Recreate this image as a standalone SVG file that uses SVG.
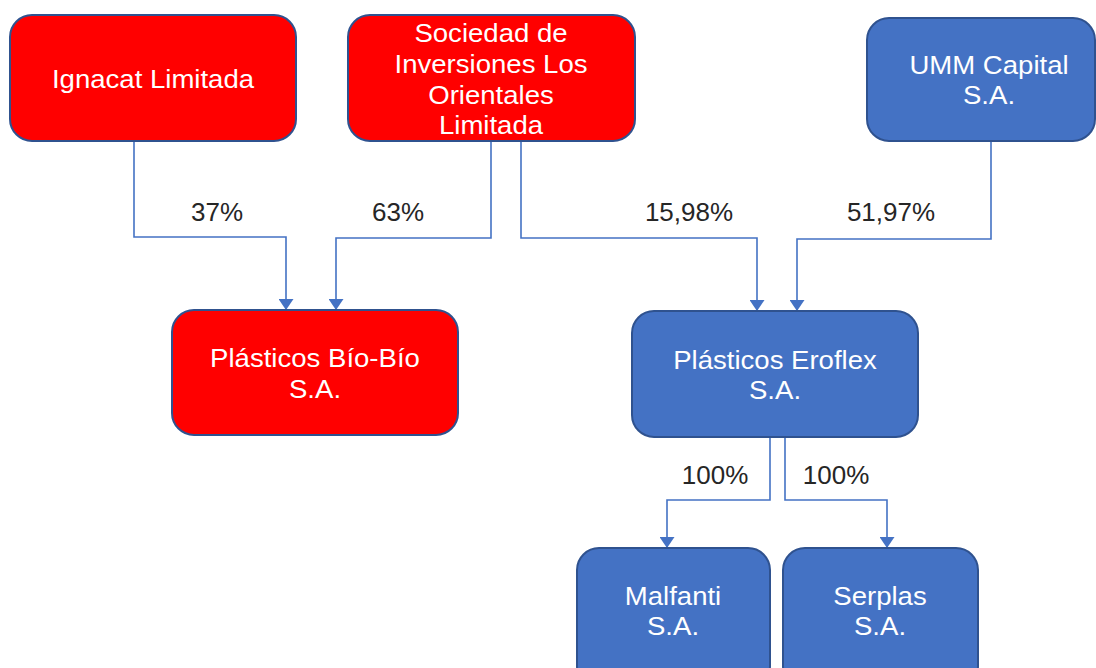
<svg xmlns="http://www.w3.org/2000/svg" width="1096" height="668" viewBox="0 0 1096 668">
<style>
.red{fill:#FF0000;stroke:#2F528F;stroke-width:2}
.blue{fill:#4472C4;stroke:#2F528F;stroke-width:2}
.nt{font-family:"Liberation Sans",Arial,sans-serif;font-size:26px;fill:#FFFFFF;text-anchor:middle}
.lbl{font-family:"Liberation Sans",Arial,sans-serif;font-size:26px;fill:#262626;text-anchor:middle}
.conn{fill:none;stroke:#4472C4;stroke-width:1.6}
</style>
<defs>
<marker id="arr" markerUnits="userSpaceOnUse" viewBox="0 0 11 15" markerWidth="11" markerHeight="15" refX="11" refY="7.5" orient="auto">
<path d="M0,0 L11,7.5 L0,15 z" fill="#4472C4"/>
</marker>
</defs>
<rect width="1096" height="668" fill="#FFFFFF"/>
<g id="connectors">
<path class="conn" marker-end="url(#arr)" d="M134,141 V237 H286 V310"/>
<path class="conn" marker-end="url(#arr)" d="M491,141 V238 H336 V310"/>
<path class="conn" marker-end="url(#arr)" d="M521,141 V238 H757 V311"/>
<path class="conn" marker-end="url(#arr)" d="M991,141 V239 H797 V311"/>
<path class="conn" marker-end="url(#arr)" d="M770,437 V500 H667 V548"/>
<path class="conn" marker-end="url(#arr)" d="M785,437 V500 H887 V548"/>
<text class="lbl" x="217" y="221">37%</text>
<text class="lbl" x="398" y="221">63%</text>
<text class="lbl" x="689" y="221">15,98%</text>
<text class="lbl" x="891" y="221">51,97%</text>
<text class="lbl" x="715" y="484">100%</text>
<text class="lbl" x="836" y="484">100%</text>
</g>
<g id="ignacat">
<rect class="red" x="10" y="15" width="286" height="126" rx="22"/>
<text class="nt" transform="translate(153,88) scale(1.06,1)">Ignacat Limitada</text>
</g>
<g id="sociedad">
<rect class="red" x="348" y="15" width="287" height="126" rx="22"/>
<text class="nt" transform="translate(491,42) scale(1.06,1)">Sociedad de</text>
<text class="nt" transform="translate(491,73) scale(1.06,1)">Inversiones Los</text>
<text class="nt" transform="translate(491,104) scale(1.06,1)">Orientales</text>
<text class="nt" transform="translate(491,134) scale(1.06,1)">Limitada</text>
</g>
<g id="umm">
<rect class="blue" x="867" y="18" width="228" height="123" rx="22"/>
<text class="nt" transform="translate(989,74) scale(1.06,1)">UMM Capital</text>
<text class="nt" transform="translate(989,104) scale(1.06,1)">S.A.</text>
</g>
<g id="biobio">
<rect class="red" x="172" y="310" width="286" height="125" rx="22"/>
<text class="nt" transform="translate(315,367) scale(1.06,1)">Plásticos Bío-Bío</text>
<text class="nt" transform="translate(315,398) scale(1.06,1)">S.A.</text>
</g>
<g id="eroflex">
<rect class="blue" x="632" y="311" width="286" height="126" rx="22"/>
<text class="nt" transform="translate(775,369) scale(1.06,1)">Plásticos Eroflex</text>
<text class="nt" transform="translate(775,399) scale(1.06,1)">S.A.</text>
</g>
<g id="malfanti">
<rect class="blue" x="577" y="548" width="193" height="140" rx="22"/>
<text class="nt" transform="translate(673,605) scale(1.06,1)">Malfanti</text>
<text class="nt" transform="translate(673,635) scale(1.06,1)">S.A.</text>
</g>
<g id="serplas">
<rect class="blue" x="783" y="548" width="195" height="140" rx="22"/>
<text class="nt" transform="translate(880,605) scale(1.06,1)">Serplas</text>
<text class="nt" transform="translate(880,635) scale(1.06,1)">S.A.</text>
</g>
</svg>
